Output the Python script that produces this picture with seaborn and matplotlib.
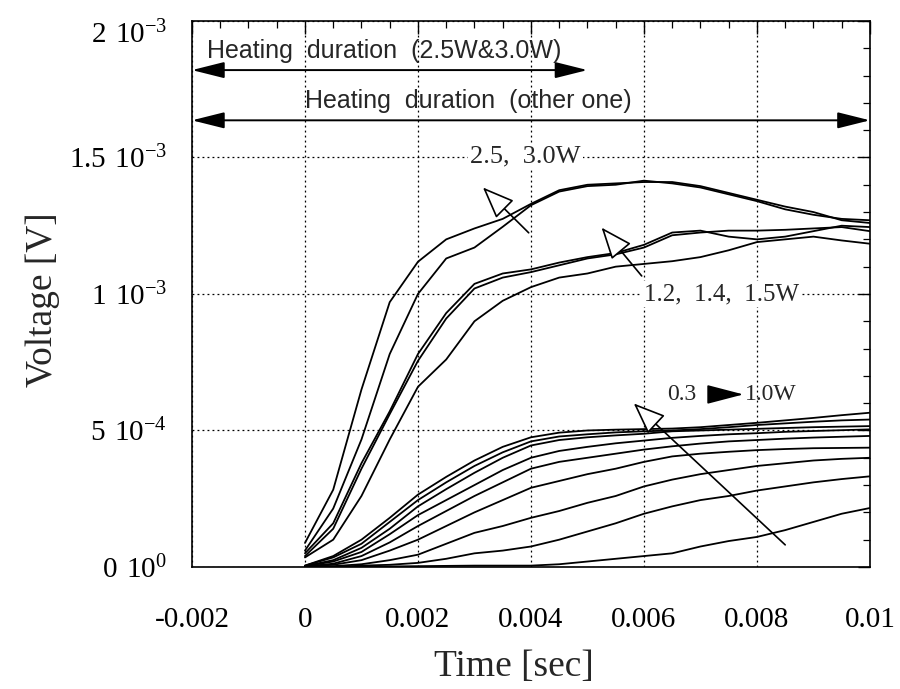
import numpy as np
import pandas as pd
import matplotlib
matplotlib.use("Agg")
import matplotlib.pyplot as plt
import seaborn as sns

# ---- data (time in s, voltage in mV) ----
time_s = [0.0, 0.0005, 0.001, 0.0015, 0.002, 0.0025, 0.003, 0.0035, 0.004, 0.0045,
          0.005, 0.0055, 0.006, 0.0065, 0.007, 0.0075, 0.008, 0.0085, 0.009, 0.0095, 0.01]

# 2.5 W and 3.0 W
p30 = [0.088, 0.283, 0.65, 0.97, 1.118, 1.20, 1.24, 1.275, 1.33, 1.38, 1.40, 1.405,
       1.41, 1.41, 1.395, 1.37, 1.345, 1.32, 1.30, 1.27, 1.26]
p25 = [0.06, 0.214, 0.467, 0.78, 1.0, 1.13, 1.17, 1.246, 1.325, 1.375, 1.395, 1.40,
       1.415, 1.405, 1.39, 1.365, 1.34, 1.31, 1.29, 1.275, 1.27]
# 1.2, 1.4, 1.5 W
p15 = [0.05, 0.16, 0.38, 0.57, 0.78, 0.93, 1.037, 1.075, 1.09, 1.115, 1.135, 1.15,
       1.18, 1.225, 1.232, 1.21, 1.20, 1.21, 1.23, 1.25, 1.245]
p14 = [0.04, 0.14, 0.36, 0.56, 0.755, 0.91, 1.02, 1.06, 1.08, 1.105, 1.13, 1.145,
       1.17, 1.215, 1.225, 1.232, 1.232, 1.235, 1.24, 1.245, 1.23]
p12 = [0.035, 0.10, 0.26, 0.467, 0.66, 0.76, 0.90, 0.975, 1.025, 1.06, 1.075, 1.10,
       1.11, 1.12, 1.135, 1.16, 1.19, 1.20, 1.21, 1.196, 1.184]
# 0.3 -> 1.0 W
c1 = [0.005, 0.04, 0.10, 0.18, 0.265, 0.33, 0.39, 0.44, 0.475, 0.492, 0.50, 0.503,
      0.505, 0.507, 0.512, 0.52, 0.528, 0.537, 0.546, 0.556, 0.565]
c2 = [0.005, 0.035, 0.085, 0.165, 0.245, 0.31, 0.37, 0.42, 0.46, 0.478, 0.486, 0.493,
      0.497, 0.50, 0.505, 0.512, 0.52, 0.526, 0.532, 0.537, 0.54]
c3 = [0.003, 0.025, 0.07, 0.14, 0.222, 0.285, 0.345, 0.40, 0.445, 0.465, 0.475, 0.482,
      0.488, 0.497, 0.50, 0.503, 0.506, 0.509, 0.512, 0.514, 0.516]
c4 = [0.003, 0.02, 0.055, 0.12, 0.19, 0.245, 0.30, 0.355, 0.40, 0.425, 0.44, 0.453,
      0.463, 0.473, 0.48, 0.486, 0.49, 0.495, 0.498, 0.501, 0.504]
c5 = [0.002, 0.012, 0.04, 0.09, 0.15, 0.205, 0.26, 0.31, 0.36, 0.385, 0.40, 0.415,
      0.43, 0.442, 0.452, 0.46, 0.465, 0.47, 0.474, 0.477, 0.48]
c6 = [0.002, 0.008, 0.025, 0.06, 0.10, 0.15, 0.20, 0.245, 0.29, 0.315, 0.34, 0.36,
      0.385, 0.405, 0.415, 0.422, 0.428, 0.432, 0.435, 0.436, 0.437]
c7 = [0.0, 0.003, 0.01, 0.025, 0.045, 0.085, 0.125, 0.15, 0.18, 0.205, 0.235, 0.26,
      0.295, 0.32, 0.34, 0.355, 0.37, 0.38, 0.39, 0.396, 0.40]
c8 = [0.0, 0.0, 0.005, 0.008, 0.015, 0.03, 0.05, 0.06, 0.075, 0.10, 0.13, 0.16,
      0.195, 0.222, 0.245, 0.26, 0.28, 0.295, 0.31, 0.322, 0.332]
c9 = [0.0, 0.0, 0.0, 0.002, 0.003, 0.004, 0.005, 0.005, 0.005, 0.01, 0.02, 0.03,
      0.04, 0.05, 0.075, 0.095, 0.11, 0.135, 0.165, 0.195, 0.216]

series = {"3.0W": p30, "2.5W": p25, "1.5W": p15, "1.4W": p14, "1.2W": p12,
          "c1": c1, "c2": c2, "c3": c3, "c4": c4, "c5": c5, "c6": c6,
          "c7": c7, "c8": c8, "c9": c9}

xticks = [-0.002, 0, 0.002, 0.004, 0.006, 0.008, 0.01]
xtick_labels = ["-0.002", "0", "0.002", "0.004", "0.006", "0.008", "0.01"]
yticks = [0, 0.0005, 0.001, 0.0015, 0.002]
ytick_labels = [r"$0\ 10^{0}$", r"$5\ 10^{-4}$", r"$1\ 10^{-3}$",
                r"$1.5\ 10^{-3}$", r"$2\ 10^{-3}$"]

rows = []
for name, vals in series.items():
    for t, v in zip(time_s, vals):
        rows.append({"t": t, "v": v * 1e-3, "curve": name})
df = pd.DataFrame(rows)

# ---- style ----
sns.set_style("white")
plt.rcParams["font.family"] = ["Liberation Serif", "DejaVu Serif"]
plt.rcParams["mathtext.default"] = "regular"
plt.rcParams["axes.unicode_minus"] = False

fig = plt.figure(figsize=(9, 6.89), dpi=100)
ax = fig.add_axes([0.2133, 0.1771, 0.7533, 0.7925])

sns.lineplot(data=df, x="t", y="v", units="curve", estimator=None,
             color="black", linewidth=1.3, ax=ax, legend=False)

ax.set_xlim(-0.002, 0.01)
ax.set_ylim(0, 0.002)
ax.set_xticks(xticks)
ax.set_xticklabels(xtick_labels)
ax.set_yticks(yticks)
ax.set_yticklabels(ytick_labels)
ax.xaxis.set_minor_locator(matplotlib.ticker.MultipleLocator(0.0005))
ax.yaxis.set_minor_locator(matplotlib.ticker.MultipleLocator(0.0001))
ax.tick_params(which="both", direction="in", top=True, right=True,
               colors="black", labelsize=21)
ax.tick_params(which="major", length=9, width=1.0)
ax.tick_params(axis="x", which="major", pad=29)
ax.tick_params(axis="y", which="major", pad=18)
ax.tick_params(which="minor", length=5, width=0.9)
ax.grid(True, which="major", linestyle=(0, (1.5, 2.5)), color="black", linewidth=0.9)
for s in ax.spines.values():
    s.set_color("black")
    s.set_linewidth(1.2)
# the top tick label sits a little below its tick in the original
ax.get_yticklabels()[-1].set_va("top")

ax.set_xlabel("Time [sec]", fontsize=27)
ax.set_ylabel("Voltage [V]", fontsize=27)
ax.xaxis.set_label_coords(0.475, -0.152)
ax.yaxis.set_label_coords(-0.195, 0.49)

# ---- heating duration arrows ----
dbl = dict(arrowstyle="<|-|>,head_length=1.0,head_width=0.25", color="black",
           lw=1.4, shrinkA=0, shrinkB=0, mutation_scale=20)
ax.annotate("", xy=(0.005, 0.00182), xytext=(-0.002, 0.00182), arrowprops=dbl)
ax.annotate("", xy=(0.01, 0.001636), xytext=(-0.002, 0.001636), arrowprops=dbl)
ax.text(-0.00173, 0.00189, "Heating  duration  (2.5W&3.0W)", fontsize=18,
        family=["Liberation Sans", "DejaVu Sans"], ha="left", va="center")
ax.text(0.0, 0.001705, "Heating  duration  (other one)", fontsize=18,
        family=["Liberation Sans", "DejaVu Sans"], ha="left", va="center")

# ---- group labels ----
box = dict(facecolor="white", edgecolor="none", pad=1.5)
ax.text(0.0039, 0.001504, "2.5,  3.0W", fontsize=19, ha="center", va="center", bbox=box)
ax.text(0.00738, 0.001, "1.2,  1.4,  1.5W", fontsize=18, ha="center", va="center", bbox=box)
ax.text(0.00667, 0.000632, "0.3", fontsize=17, ha="center", va="center")
ax.text(0.00825, 0.000632, "1.0W", fontsize=17, ha="center", va="center")
ax.annotate("", xy=(0.00776, 0.000632), xytext=(0.00720, 0.000632),
            arrowprops=dict(arrowstyle="-|>,head_length=1.15,head_width=0.3",
                            color="black", lw=1.2, shrinkA=0, shrinkB=0,
                            mutation_scale=20))

opn = dict(arrowstyle="-|>,head_length=1.0,head_width=0.4", fc="white", ec="black",
           lw=1.2, shrinkA=0, shrinkB=0, mutation_scale=20)
ax.annotate("", xy=(0.00315, 0.00139), xytext=(0.00396, 0.001224), arrowprops=opn)
ax.annotate("", xy=(0.00525, 0.001243), xytext=(0.00596, 0.001066), arrowprops=opn)
ax.annotate("", xy=(0.00582, 0.000599), xytext=(0.0085, 0.000081), arrowprops=opn)

fig.savefig("out.png", dpi=100, facecolor="white")
